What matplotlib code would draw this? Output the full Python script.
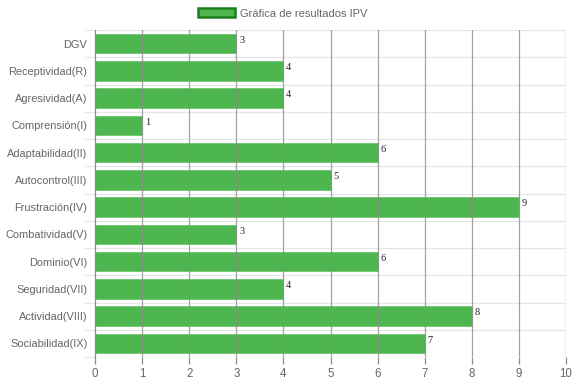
import matplotlib.pyplot as plt
import numpy as np

# Datos del gráfico
categorias = ['DGV', 'Receptividad(R)', 'Agresividad(A)', 'Comprensión(I)',
              'Adaptabilidad(II)', 'Autocontrol(III)', 'Frustración(IV)',
              'Combatividad(V)', 'Dominio(VI)', 'Seguridad(VII)',
              'Actividad(VIII)', 'Sociabilidad(IX)']
valores = [3, 4, 4, 1, 6, 5, 9, 3, 6, 4, 8, 7]
etiqueta = 'Gráfica de resultados IPV'

plt.rcParams['font.family'] = ['Liberation Sans', 'DejaVu Sans']

fig = plt.figure(figsize=(5.74, 3.83), dpi=100)
ax = fig.add_axes([95/574, 1 - 357/383, 471/574, 327/383])

y = np.arange(len(categorias))
barras = ax.barh(y, valores, height=0.72, color='#4db64f', edgecolor='#6cc56e',
                 linewidth=0.6, label=etiqueta, zorder=1)

for yi, v in zip(y, valores):
    ax.text(v + 0.06, yi - 0.12, str(v), fontsize=7.5, family='Liberation Serif',
            color='#222222', va='center', ha='left')

ax.set_xlim(0, 10)
ax.set_ylim(len(categorias) - 0.5, -0.5)
ax.set_xticks(range(11))
ax.set_yticks(y)
ax.set_yticklabels(categorias)
ax.set_yticks(np.arange(-0.5, len(categorias), 1), minor=True)

# Cuadrícula
for xv in range(1, 11):
    ax.axvline(xv, color='#8c8c8c', lw=0.9, alpha=0.8, zorder=2)
ax.grid(axis='y', which='minor', color='#e6e6e6', lw=0.9, zorder=0)
ax.tick_params(axis='y', which='minor', length=8, color='#e6e6e6', width=0.9)
ax.tick_params(axis='y', which='major', length=0, pad=5.5, labelsize=7.9, labelcolor='#666666')
ax.tick_params(axis='x', length=5, color='#8c8c8c', width=0.9, labelsize=8.3,
               labelcolor='#666666', pad=3)

for s in ['top', 'right', 'bottom']:
    ax.spines[s].set_visible(False)
ax.spines['left'].set_color('#8c8c8c')
ax.spines['left'].set_linewidth(0.9)

fig.legend(handles=[plt.Rectangle((0, 0), 1, 1, facecolor='#4db64f', edgecolor='#1e7d1e', lw=1.8)],
           labels=[etiqueta], loc='upper center', bbox_to_anchor=(0.493, 1.005),
           frameon=False, fontsize=8, labelcolor='#666666', handlelength=3.3,
           handleheight=0.9, handletextpad=0.5)

fig.savefig('out.png', dpi=100)
